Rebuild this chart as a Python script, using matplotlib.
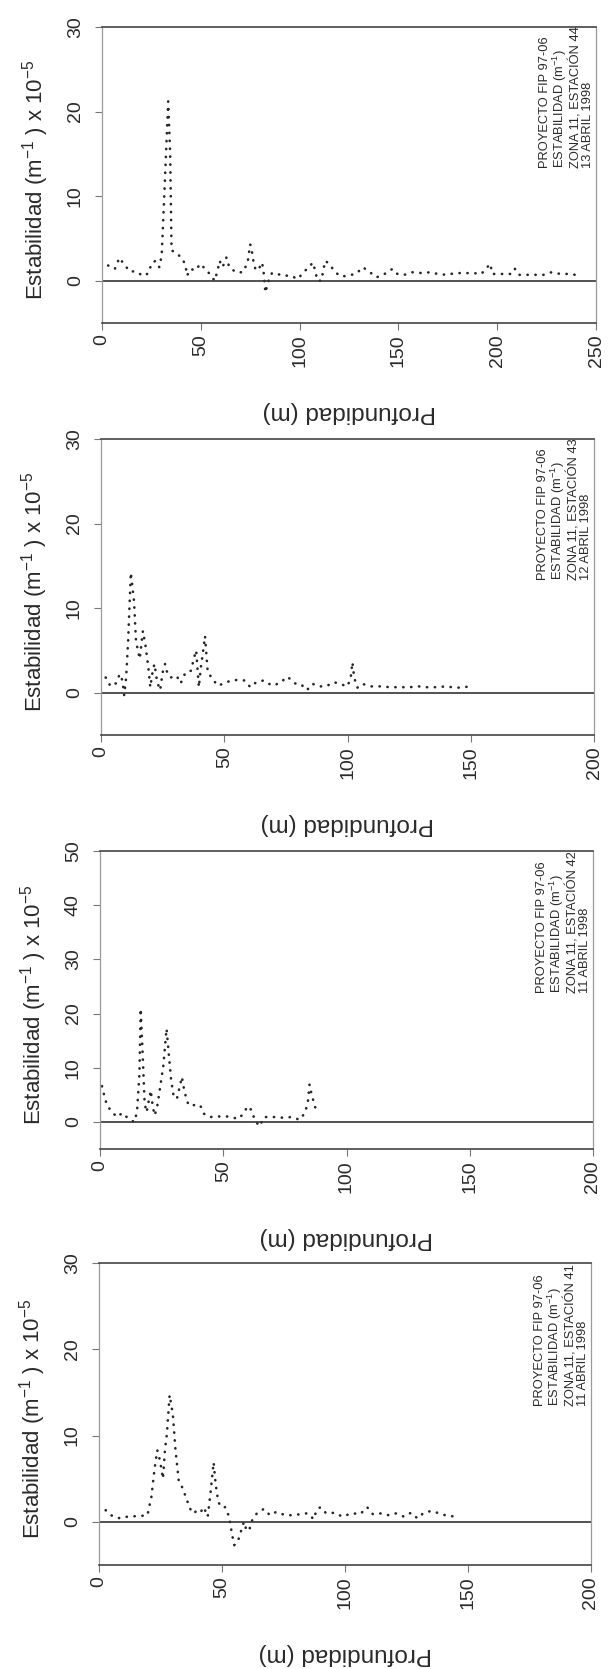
import matplotlib
matplotlib.use("Agg")
import matplotlib.pyplot as plt
from matplotlib import font_manager

# --- data ---------------------------------------------------------------
depth_44 = [3.1, 6.5, 8.8, 11, 14, 17, 21, 23.6, 25, 27, 29, 30.2, 31.5, 33.5, 34.5,
            35.2, 38.5, 41, 42.4, 43, 45, 47, 50, 52.6, 54.6, 57, 58.5, 59.5, 61, 63,
            64.4, 67.8, 71.3, 73.7, 75, 76, 76.6, 77.8, 79.8, 81, 81.8, 82.7, 84, 86,
            88, 91, 95.5, 99, 102.4, 104.7, 106.7, 108, 109, 111, 112, 113, 115, 118,
            121, 125, 129, 132, 135, 139, 143, 147, 149.5, 153, 157, 162, 166, 170,
            174, 179, 183, 188, 192, 196.5, 197.5, 200, 204, 207.5, 209, 211, 216,
            220, 223.6, 227.5, 232, 237, 241.6]
stab_44 = [1.8, 1.4, 2.7, 2.0, 1.1, 1.1, 0.55, 0.9, 2.0, 2.35, 1.6, 3.0, 10, 21.2, 15,
           3.6, 3.1, 2.5, 1.6, 0.6, 1.4, 1.2, 2.0, 1.25, 0.8, 0.0, 1.2, 2.35, 1.6, 2.75,
           1.6, 1.0, 1.0, 2.15, 4.3, 3.3, 2.35, 1.2, 1.6, 2.15, 1.0, -1.4, -0.2, 0.9,
           0.9, 0.6, 0.6, 0.2, 1.1, 1.6, 2.15, 1.1, 0.0, 0.0, 1.25, 2.35, 2.0, 1.0,
           0.5, 0.6, 0.9, 1.6, 1.1, 0.4, 0.8, 1.4, 0.8, 0.7, 1.0, 0.9, 1.0, 0.8,
           0.7, 0.9, 0.9, 0.9, 0.8, 2.0, 0.8, 0.8, 0.8, 0.8, 1.4, 0.7, 0.7,
           0.7, 0.7, 1.0, 0.8, 0.8, 0.6]

depth_43 = [1.9, 3.9, 6, 7.6, 8.7, 9.4, 10.2, 11, 12.1, 13.4, 14.2, 15.7, 17, 18, 19.2,
            20, 21, 21.7, 22.8, 24, 25, 26, 27, 28.3, 30.7, 32.3, 34.3, 36.5, 37.8,
            38.6, 39.7, 40.5, 41.3, 42.2, 43.3, 44.9, 47.2, 49, 52.8, 55, 58.3, 60.6,
            63, 66, 69.3, 72.4, 75.6, 78.7, 81, 83.5, 85.8, 88.5, 91.3, 94.5, 97.3,
            100, 101.3, 102, 102.7, 104, 106, 109.4, 113.4, 117.3, 121.3, 125.2,
            128.8, 132.3, 136, 140, 143.6, 147, 150.4]
stab_43 = [1.8, 0.75, 1.1, 2.2, 1.45, -0.3, 1.8, 6.1, 14.2, 10.8, 6.1, 4.0, 7.3, 5.7,
           3.0, 0.65, 2.6, 3.4, 1.25, 0.3, 2.4, 3.4, 2.2, 1.8, 2.0, 1.1, 2.4, 2.6, 4.2,
           5.0, 0.65, 3.0, 4.6, 6.7, 2.4, 1.8, 0.85, 1.0, 1.45, 1.5, 1.45, 0.65,
           1.25, 1.45, 0.85, 1.1, 1.9, 1.1, 1.05, 0.3, 1.05, 0.75, 0.75, 1.25, 1.0,
           0.75, 1.8, 3.6, 1.8, 0.6, 1.05, 0.75, 0.75, 0.65, 0.65, 0.65,
           0.75, 0.65, 0.65, 0.75, 0.6, 0.6, 0.85]

depth_42 = [0.8, 1.7, 2.8, 4.4, 6.8, 9.1, 12, 13.9, 15, 16, 16.5, 17.3, 18.1, 18.9,
            19.7, 20.6, 21.4, 22.2, 23.3, 24.4, 25.7, 27, 28, 28.8, 29.9, 31.2, 32.3,
            33.2, 34.3, 35.9, 38, 40.6, 42.2, 44.6, 47.7, 51.6, 54, 56.4, 58, 60,
            61.6, 62.7, 64.7, 66.6, 69, 71.7, 74.5, 77.6, 81, 83.1, 84.3, 85, 85.8,
            86.8, 87.9]
stab_42 = [6.6, 4.9, 3.1, 2.1, 0.9, 1.65, 0.4, 0.0, 1.8, 8.9, 20.9, 12.6, 3.4, 1.8,
           3.7, 5.8, 2.8, 1.2, 3.1, 6.4, 10.4, 17.2, 12.0, 8.0, 4.6, 4.3, 6.4,
           8.3, 5.5, 3.1, 3.1, 3.1, 1.5, 0.9, 1.0, 1.0, 0.75, 0.6, 1.5, 2.9,
           2.1, 0.4, -0.8, 0.9, 0.9, 0.9, 0.75, 0.9, 0.4, 1.65, 3.5, 6.9, 5.2,
           3.5, 1.8]

depth_41 = [2.7, 5.5, 8.7, 12.2, 15.8, 19.7, 21.3, 22.6, 23.7, 24.8, 26, 26.8, 27.6,
            28.7, 30, 31.1, 32.4, 34, 35.5, 36.8, 37.9, 39.5, 41, 42.6, 44.2, 45.3,
            46.6, 47.4, 48.5, 49.7, 51.3, 52.9, 54.1, 55, 56.4, 57.6, 58.9, 60, 61,
            62.3, 64.2, 67, 69.5, 72, 75.8, 79, 82, 84.8, 87.3, 88.4, 90, 92.3, 95.8,
            99, 102.6, 106.2, 109, 111.3, 114, 117.3, 120.4, 124, 126.8, 129.5, 131.8,
            135, 138.2, 142, 146]
stab_41 = [1.35, 0.65, 0.4, 0.65, 0.65, 0.77, 2.9, 6.2, 8.3, 7.1, 5.0, 8.3, 10.2,
           14.7, 12.5, 8.3, 4.8, 3.9, 2.7, 1.7, 1.0, 1.2, 1.0, 1.7, 0.6, 3.3,
           6.9, 4.4, 2.3, 1.7, 1.7, 0.6, -1.5, -2.7, -2.3, -1.2, 0.0, -1.0, -1.0,
           0.2, 1.0, 1.5, 0.77, 1.15, 0.77, 0.77, 0.9, 1.0, 0.3, 1.35, 1.7, 1.0, 1.05,
           0.6, 1.0, 0.9, 1.7, 0.9, 1.0, 0.77, 1.0, 0.6, 1.05, 0.4, 1.0,
           1.27, 1.0, 0.65, 0.65]

stations = ["44", "43", "42", "41"]
dates = ["13 ABRIL 1998", "12 ABRIL 1998", "11 ABRIL 1998", "11 ABRIL 1998"]
depths = [depth_44, depth_43, depth_42, depth_41]
values = [stab_44, stab_43, stab_42, stab_41]
xmax = [250, 200, 200, 200]
ymax = [30, 30, 50, 30]

# --- fonts ---------------------------------------------------------------
names = {f.name for f in font_manager.fontManager.ttflist}
plt.rcParams['font.family'] = ['Liberation Sans', 'DejaVu Sans']
plt.rcParams['mathtext.fontset'] = 'custom'
plt.rcParams['mathtext.rm'] = 'Liberation Sans'
plt.rcParams['mathtext.default'] = 'regular'
note_font = 'Liberation Sans Narrow' if 'Liberation Sans Narrow' in names else 'Liberation Sans'

W, H = 609, 1669
fig = plt.figure(figsize=(W / 100, H / 100), dpi=100)

# panel boxes in pixels: left, top, right, bottom
boxes = [(102, 27, 596, 323), (101, 439, 594, 735),
         (100, 851, 593, 1149), (99, 1263, 591, 1565)]

ink = '#262626'
for i in range(4):
    l, t, r, b = boxes[i]
    ax = fig.add_axes([l / W, 1 - b / H, (r - l) / W, (b - t) / H])
    ax.plot(depths[i], values[i], color=ink, lw=1.9, linestyle=(0, (0.1, 2.9)),
            dash_capstyle='round')
    ax.axhline(0, color='#333333', lw=1.2)
    ax.set_xlim(0, xmax[i])
    ax.set_ylim(-5, ymax[i])
    ax.set_yticks(range(0, ymax[i] + 1, 10))
    ax.set_xticks(range(0, xmax[i] + 1, 50))
    for side in ['top', 'bottom']:
        ax.spines[side].set_color('#444444')
        ax.spines[side].set_linewidth(1.2)
    for side in ['left', 'right']:
        ax.spines[side].set_color('#9a9a9a')
        ax.spines[side].set_linewidth(0.9)
    ax.tick_params(direction='out', length=5, width=0.8, color='#777777',
                   labelsize=14, labelcolor='#2a2a2a')
    ax.tick_params(axis='x', pad=3)
    ax.tick_params(axis='y', pad=8)
    for lab in ax.get_yticklabels():
        lab.set_rotation(90)
        lab.set_va('center')
    for lab in ax.get_xticklabels():
        lab.set_rotation(90)

    ax.annotate("Estabilidad (m$^{-1}$ ) x 10$^{-5}$", xy=(0, 0.485), xycoords='axes fraction',
                xytext=(-66, 0), textcoords='offset pixels', rotation=90,
                ha='center', va='center', fontsize=16, color='#2a2a2a')
    ax.annotate("Profundidad (m)", xy=(0.5, 0), xycoords='axes fraction',
                xytext=(0, -89), textcoords='offset pixels', rotation=180,
                ha='center', va='center', fontsize=17.5, color='#2a2a2a')

    note = ("PROYECTO FIP 97-06\nESTABILIDAD (m$^{-1}$)\nZONA 11, ESTACIÓN "
            + stations[i] + "\n" + dates[i])
    ax.text(0.996, 0.525, note, transform=ax.transAxes, rotation=90,
            ha='right', va='bottom', multialignment='left', fontsize=9.3,
            family=note_font, color='#2a2a2a', linespacing=0.98)

fig.savefig("out.png", dpi=100, facecolor='white')
